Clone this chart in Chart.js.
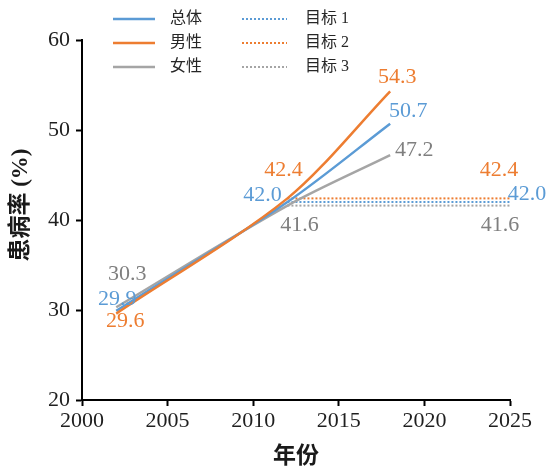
<!DOCTYPE html>
<html>
<head>
<meta charset="utf-8">
<script src="https://cdn.jsdelivr.net/npm/chart.js@4.4.0/dist/chart.umd.min.js"></script>
<style>
  html, body { margin: 0; padding: 0; background: #fff; }
  #wrap { width: 555px; height: 475px; }
</style>
</head>
<body>
<div id="wrap"><canvas id="chart"></canvas></div>
<script>
const years = [2002, 2012, 2018];
const totalRate = [29.9, 42.0, 50.7];
const maleRate = [29.6, 42.4, 54.3];
const femaleRate = [30.3, 41.6, 47.2];
const targetYears = [2012, 2025];
const targetTotal = [42.0, 42.0];
const targetMale = [42.4, 42.4];
const targetFemale = [41.6, 41.6];
const xTicks = [2000, 2005, 2010, 2015, 2020, 2025];
const yTicks = [20, 30, 40, 50, 60];
const seriesNames = ["总体", "男性", "女性"];
const targetNames = ["目标 1", "目标 2", "目标 3"];
const yTitle = "患病率 (%)";

const BLUE = "#5B9BD5";
const ORANGE = "#ED7D31";
const GRAY = "#A5A5A5";
const FONT = '"Liberation Serif", "Noto Sans CJK SC", serif';

function toPoints(xs, ys) {
    return xs.map((x, i) => ({ x: x, y: ys[i] }));
}

function lineSet(label, xs, ys, color, labelColor, labelPos, order) {
    return {
        label: label,
        data: toPoints(xs, ys),
        borderColor: color,
        borderWidth: 2.5,
        pointRadius: 0,
        tension: 0.3,
        fill: false,
        order: order,
        labelColor: labelColor,
        labelPos: labelPos
    };
}

function targetSet(label, xs, ys, color, labelColor, labelPos) {
    return {
        label: label,
        data: toPoints(xs, ys),
        borderColor: color,
        borderWidth: 2,
        borderDash: [2, 2],
        pointRadius: 0,
        tension: 0,
        fill: false,
        order: 5,
        dotted: true,
        labelColor: labelColor,
        labelPos: labelPos
    };
}

// data labels drawn next to the points
const dataLabels = {
    id: "dataLabels",
    afterDraw(chart) {
        const c = chart.ctx;
        c.save();
        c.font = "22px " + FONT;
        c.textAlign = "center";
        c.textBaseline = "middle";
        chart.data.datasets.forEach((ds, i) => {
            const meta = chart.getDatasetMeta(i);
            meta.data.forEach((pt, j) => {
                const off = ds.labelPos && ds.labelPos[j];
                if (!off) return;
                c.fillStyle = ds.labelColor;
                c.fillText(ds.data[j].y.toFixed(1), pt.x + off[0], pt.y + off[1]);
            });
        });
        c.restore();
    }
};

// two-column legend at the top + y title (sits a bit above the axis middle)
const topLegend = {
    id: "topLegend",
    afterDraw(chart) {
        const c = chart.ctx;
        const rows = [19, 43, 67];
        c.save();
        c.font = "16px " + FONT;
        c.textBaseline = "middle";
        c.textAlign = "left";
        chart.data.datasets.forEach((ds, i) => {
            const col = ds.dotted ? 1 : 0;
            const row = ds.dotted ? i - 3 : i;
            const x0 = col ? 242 : 113;
            const len = col ? 45 : 42;
            const tx = col ? 305 : 170;
            const y = rows[row];
            c.strokeStyle = ds.borderColor;
            c.lineWidth = ds.borderWidth;
            c.setLineDash(ds.dotted ? [2, 2] : []);
            c.beginPath();
            c.moveTo(x0, y);
            c.lineTo(x0 + len, y);
            c.stroke();
            c.setLineDash([]);
            c.fillStyle = "#262626";
            c.fillText(ds.label, tx, y);
        });

        c.translate(21, 205);
        c.rotate(-Math.PI / 2);
        c.textAlign = "center";
        c.font = "bold 23px " + FONT;
        c.fillStyle = "#1a1a1a";
        c.fillText(yTitle, 0, 0);
        c.restore();
    }
};

const axisCommon = {
    grid: { display: true, drawOnChartArea: false, drawTicks: true, tickLength: 6, tickWidth: 2, color: "#000" },
    border: { display: true, color: "#000", width: 2 }
};

const ctx = document.getElementById("chart").getContext("2d");
const chart = new Chart(ctx, {
    type: "line",
    data: {
        datasets: [
            lineSet(seriesNames[0], years, totalRate, BLUE, BLUE, [[1, -12], [-25, -7], [18, -12]], 2),
            lineSet(seriesNames[1], years, maleRate, ORANGE, ORANGE, [[9, 8], [-4, -28], [7, -14]], 1),
            lineSet(seriesNames[2], years, femaleRate, GRAY, "#7F7F7F", [[11, -33], [12, 20], [24, -5]], 3),
            targetSet(targetNames[0], targetYears, targetTotal, BLUE, BLUE, [null, [17, -8]]),
            targetSet(targetNames[1], targetYears, targetMale, ORANGE, ORANGE, [null, [-11, -28]]),
            targetSet(targetNames[2], targetYears, targetFemale, GRAY, "#7F7F7F", [null, [-10, 20]])
        ]
    },
    options: {
        responsive: true,
        maintainAspectRatio: false,
        animation: false,
        layout: { padding: { top: 40, right: 45, left: 0, bottom: 0 } },
        plugins: {
            legend: { display: false },
            tooltip: { enabled: false }
        },
        scales: {
            x: {
                type: "linear",
                min: 2000,
                max: 2025,
                afterBuildTicks: s => { s.ticks = xTicks.map(v => ({ value: v })); },
                afterFit: s => { s.height = 75; },
                ticks: {
                    callback: v => String(v),
                    font: { family: FONT, size: 22 },
                    color: "#1f1f1f",
                    padding: 2,
                    maxRotation: 0,
                    autoSkip: false
                },
                title: {
                    display: true,
                    text: "年份",
                    font: { family: FONT, size: 23, weight: "bold" },
                    color: "#1a1a1a",
                    padding: { top: 0, bottom: 4 }
                },
                ...axisCommon
            },
            y: {
                min: 20,
                max: 60,
                afterBuildTicks: s => { s.ticks = yTicks.map(v => ({ value: v })); },
                afterFit: s => { s.width = 82; },
                ticks: {
                    callback: v => String(v),
                    font: { family: FONT, size: 22 },
                    color: "#1f1f1f",
                    padding: 6
                },
                ...axisCommon
            }
        }
    },
    plugins: [dataLabels, topLegend]
});
</script>
</body>
</html>
